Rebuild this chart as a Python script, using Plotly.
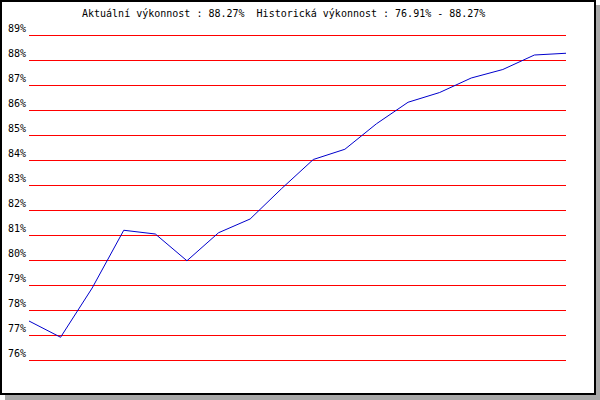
import plotly.graph_objects as go

# performance history (%)
points = list(range(18))
performance = [77.56, 76.91, 78.88, 81.19, 81.04, 79.97, 81.09, 81.64, 82.86,
               84.02, 84.43, 85.45, 86.31, 86.70, 87.28, 87.62, 88.20, 88.27]
y_ticks = list(range(76, 90))
title_text = "Aktuální výkonnost : 88.27%\u00a0\u00a0Historická výkonnost : 76.91% - 88.27%"

W, H = 600, 400
L, R, T, B = 29, 34, 32, 37
pw, ph = W - L - R, H - T - B


def px(x):
    return (x - L) / pw


def py(y):
    return (H - B - y) / ph


fig = go.Figure()
fig.add_trace(go.Scatter(x=points, y=performance, mode="lines",
                         line=dict(color="#0000cc", width=1), cliponaxis=False,
                         hoverinfo="skip"))

# frame with drop shadow
fig.add_shape(type="rect", xref="paper", yref="paper", layer="below",
              x0=px(5), x1=px(600), y0=py(5), y1=py(400),
              fillcolor="#a8a8a8", line=dict(width=0))
fig.add_shape(type="rect", xref="paper", yref="paper", layer="below",
              x0=px(1), x1=px(595), y0=py(1), y1=py(394),
              fillcolor="white", line=dict(color="black", width=2))

fig.add_annotation(text=title_text, xref="paper", yref="paper",
                   x=px(283.5), y=py(13.5), xanchor="center", yanchor="middle",
                   showarrow=False, font=dict(family="DejaVu Sans Mono", size=10, color="black"))

fig.update_layout(
    width=W, height=H,
    margin=dict(l=L, r=R, t=T, b=B, pad=0, autoexpand=False),
    paper_bgcolor="white", plot_bgcolor="rgba(0,0,0,0)",
    showlegend=False,
    font=dict(family="DejaVu Sans Mono", size=10, color="black"),
    xaxis=dict(range=[0, 17], showgrid=False, zeroline=False, showticklabels=False,
               showline=False, ticks="", automargin=False),
    yaxis=dict(range=[75.88, 89.12], tickvals=y_ticks, ticktext=[f"{v}%" for v in y_ticks],
               showgrid=True, gridcolor="#ff0000", gridwidth=1, zeroline=False,
               showline=False, ticks="", ticklabelposition="outside top",
               ticklabelstandoff=2, automargin=False),
)

# page body has a default 8px margin; drop it so the figure sits at the corner
fig.write_html("out.html", config={"displayModeBar": False},
               post_script="document.body.style.margin='0';")
